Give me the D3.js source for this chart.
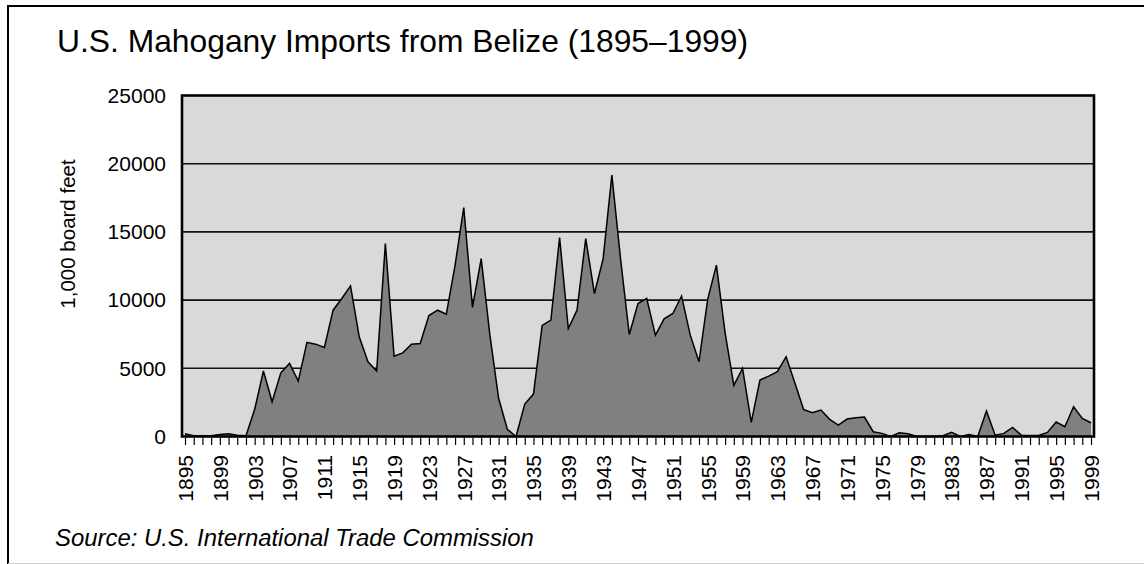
<html>
<head>
<meta charset="utf-8">
<script src="https://d3js.org/d3.v7.min.js"></script>
<style>
    body { margin: 0; background: #fff; }
    text { font-family: "Liberation Sans", Arial, Helvetica, sans-serif; fill: #000; }
</style>
</head>
<body>
<div id="chart"></div>
<script>
// years shown on the axis (one tick per year, label every 4th)
var years = d3.range(1895, 2000);
var tickYears = [1895, 1899, 1903, 1907, 1911, 1915, 1919, 1923, 1927, 1931, 1935, 1939, 1943,
    1947, 1951, 1955, 1959, 1963, 1967, 1971, 1975, 1979, 1983, 1987, 1991, 1995, 1999];
var yTicks = [0, 5000, 10000, 15000, 20000, 25000];

// imports, 1,000 board feet
var imports = [
    200, 50, 50, 50, 150, 200, 100, 50, 2000, 4800,          // 1895-1904
    2550, 4670, 5360, 4060, 6900, 6770, 6530, 9260, 10120, 11040, // 1905-1914
    7310, 5480, 4800, 14140, 5890, 6130, 6770, 6820, 8870, 9260,  // 1915-1924
    8970, 12550, 16780, 9460, 13040, 7430, 2800, 530, 0, 2380,    // 1925-1934
    3110, 8140, 8530, 14580, 7920, 9260, 14510, 10480, 13040, 19170, // 1935-1944
    13000, 7480, 9750, 10120, 7430, 8630, 9020, 10290, 7430, 5480,   // 1945-1954
    10050, 12560, 7600, 3750, 4990, 1040, 4140, 4430, 4750, 5850,    // 1955-1964
    3940, 1990, 1740, 1940, 1260, 840, 1280, 1380, 1430, 350,        // 1965-1974
    230, 0, 270, 200, 0, 0, 0, 50, 300, 0,                           // 1975-1984
    150, 0, 1870, 100, 230, 670, 100, 80, 80, 300,                   // 1985-1994
    1060, 720, 2180, 1330, 1010                                      // 1995-1999
];

var title = "U.S. Mahogany Imports from Belize (1895\u20131999)";
var yTitle = "1,000 board feet";
var source = "Source: U.S. International Trade Commission";

var W = 1144, H = 564;
var plot = { left: 182, top: 95.5, right: 1094, bottom: 436.5 };

var svg = d3.select("#chart").append("svg")
    .attr("width", W)
    .attr("height", H);

// outer frame (cut off at right edge)
svg.append("path")
    .attr("d", "M8,564 L8,6 L1150,6")
    .attr("fill", "none")
    .attr("stroke", "#000")
    .attr("stroke-width", 2);
svg.append("line")
    .attr("x1", 8).attr("x2", W).attr("y1", 563.5).attr("y2", 563.5)
    .attr("stroke", "#ccc").attr("stroke-width", 1);

svg.append("text")
    .attr("x", 57).attr("y", 52)
    .style("font-size", "31.8px")
    .text(title);

var x = d3.scaleLinear().domain([1895, 1999]).range([185, 1091]);
var y = d3.scaleLinear().domain([0, 25000]).range([plot.bottom, plot.top]);

// plot background
svg.append("rect")
    .attr("x", plot.left).attr("y", plot.top)
    .attr("width", plot.right - plot.left)
    .attr("height", plot.bottom - plot.top)
    .attr("fill", "#d9d9d9");

// grid lines
svg.append("g")
    .selectAll("line")
    .data(yTicks.slice(1, -1))
    .enter().append("line")
    .attr("x1", plot.left).attr("x2", plot.right)
    .attr("y1", function (d) { return y(d); })
    .attr("y2", function (d) { return y(d); })
    .attr("stroke", "#111")
    .attr("stroke-width", 1.6);

// area
var area = d3.area()
    .x(function (d, i) { return x(years[i]); })
    .y0(y(0))
    .y1(function (d) { return y(d); });
var line = d3.line()
    .x(function (d, i) { return x(years[i]); })
    .y(function (d) { return y(d); });

svg.append("path")
    .datum(imports)
    .attr("d", area)
    .attr("fill", "#808080");
svg.append("path")
    .datum(imports)
    .attr("d", line)
    .attr("fill", "none")
    .attr("stroke", "#000")
    .attr("stroke-width", 1.5)
    .attr("stroke-linejoin", "miter");

// plot border
svg.append("rect")
    .attr("x", plot.left).attr("y", plot.top)
    .attr("width", plot.right - plot.left)
    .attr("height", plot.bottom - plot.top)
    .attr("fill", "none")
    .attr("stroke", "#000")
    .attr("stroke-width", 2.6);

// y axis labels
var yAxis = d3.axisLeft(y)
    .tickValues(yTicks)
    .tickFormat(d3.format("d"))
    .tickSize(0)
    .tickPadding(16);
var gy = svg.append("g")
    .attr("transform", "translate(" + plot.left + ",0)")
    .call(yAxis);
gy.select(".domain").remove();
gy.selectAll("text")
    .style("font-size", "21px")
    .attr("fill", "#000")
    .attr("font-family", null);

// x axis: tick each year, label every 4th
var xAxis = d3.axisBottom(x)
    .tickValues(years)
    .tickSize(7)
    .tickFormat(function (d) { return tickYears.indexOf(d) >= 0 ? d : ""; });
var gx = svg.append("g")
    .attr("transform", "translate(0," + (plot.bottom + 1.5) + ")")
    .call(xAxis);
gx.select(".domain").remove();
gx.selectAll("line").attr("stroke", "#000").attr("stroke-width", 1.2);
gx.selectAll("text")
    .style("font-size", "21px")
    .attr("fill", "#000")
    .attr("font-family", null)
    .attr("text-anchor", "end")
    .attr("transform", "rotate(-90)")
    .attr("x", -17)
    .attr("y", 0)
    .attr("dy", "0.35em");

// y axis title
svg.append("text")
    .attr("transform", "translate(75,234) rotate(-90)")
    .attr("text-anchor", "middle")
    .style("font-size", "20.5px")
    .text(yTitle);

// source note
svg.append("text")
    .attr("x", 55).attr("y", 546)
    .style("font-size", "23.9px")
    .style("font-style", "italic")
    .text(source);
</script>
</body>
</html>
